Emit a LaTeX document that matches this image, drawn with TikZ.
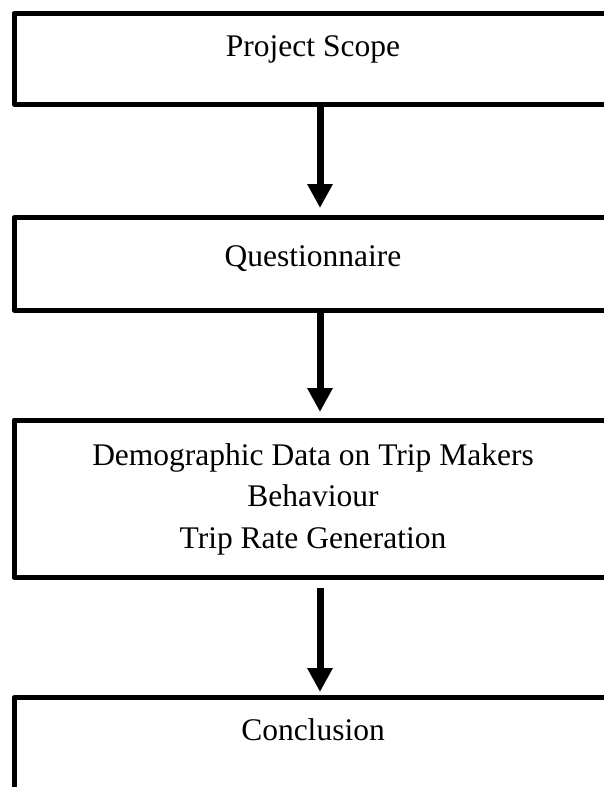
\documentclass[tikz,border=0pt]{standalone}
\usepackage{fontspec}
\setmainfont{Liberation Serif}
\usetikzlibrary{arrows.meta}
\begin{document}
\begin{tikzpicture}[x=1pt,y=-1pt,
  flowbox/.style={draw=black, line width=5pt, line join=round, rectangle,
    minimum width=598pt, inner sep=0pt, outer sep=0pt},
  label/.style={font=\fontsize{31.5}{41.5}\selectfont, anchor=base, inner sep=0pt},
  arr/.style={line width=7pt, -{Triangle[width=24pt,length=24pt]}}]
\useasboundingbox (0,0) rectangle (604,787);
\node[flowbox, minimum height=90.5pt] (b1) at (313,58.75) {};
\node[flowbox, minimum height=92.5pt] (b2) at (313,263.75) {};
\node[flowbox, minimum height=157.5pt] (b3) at (313,498.75) {};
\node[flowbox, minimum height=150pt] (b4) at (313,772.5) {};
\node[label] (t1) at (313,56) {Project Scope};
\node[label] (t2) at (313,266) {Questionnaire};
\node[label] (t3a) at (313,465) {Demographic Data on Trip Makers};
\node[label] (t3b) at (313,506.5) {Behaviour};
\node[label] (t3c) at (313,548) {Trip Rate Generation};
\node[label] (t4) at (313,740) {Conclusion};
\draw[arr] ([xshift=7pt]b1.south) -- ([xshift=7pt,yshift=9.5pt]b2.north);
\draw[arr] ([xshift=7pt]b2.south) -- ([xshift=7pt,yshift=8pt]b3.north);
\draw[arr] ([xshift=7pt,yshift=-10.5pt]b3.south) -- ([xshift=7pt,yshift=5.5pt]b4.north);
\end{tikzpicture}
\end{document}
